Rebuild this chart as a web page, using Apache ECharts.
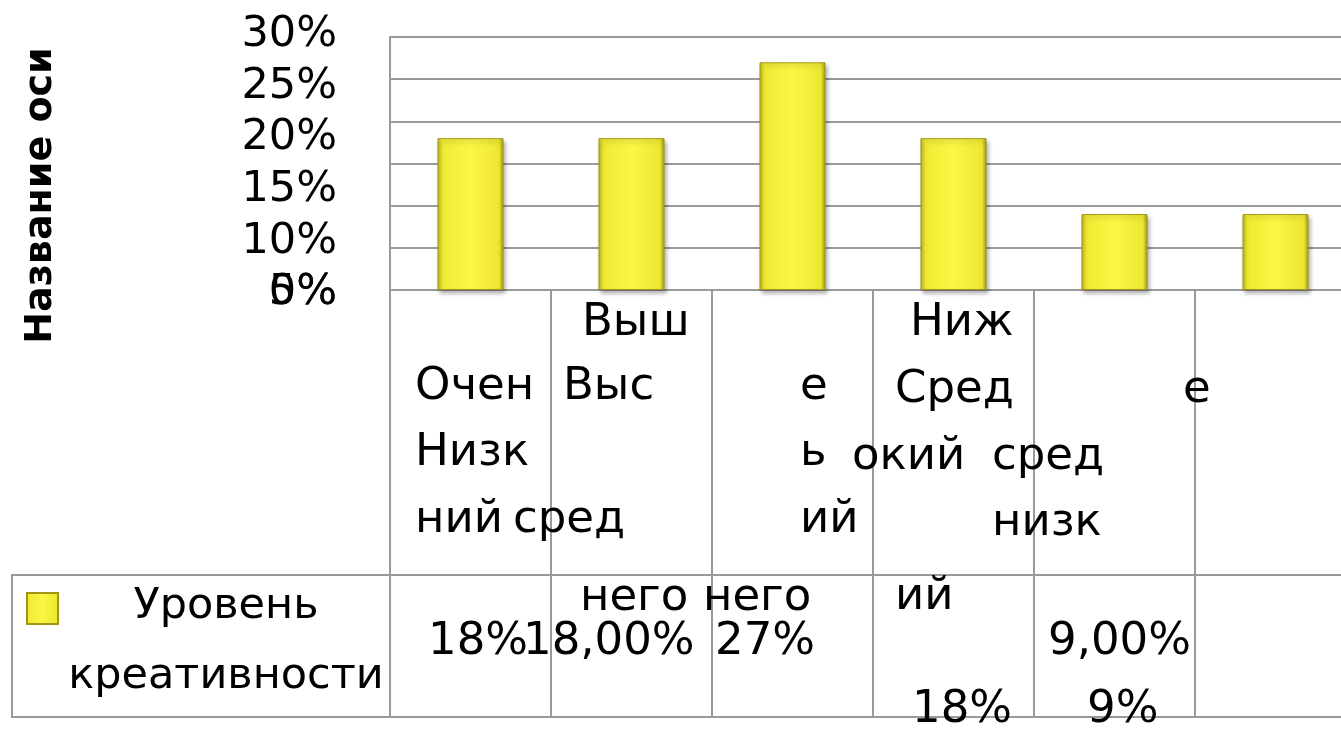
<!DOCTYPE html>
<html>
<head>
<meta charset="utf-8">
<script src="https://cdn.jsdelivr.net/npm/echarts@6/dist/echarts.min.js"></script>
<style>
html,body{margin:0;padding:0;background:#fff}
#chart{width:1341px;height:729px}
</style>
</head>
<body>
<div id="chart"></div>
<script>
var categories = ['Очень низкий', 'Низкий', 'Ниже среднего', 'Средний', 'Выше среднего', 'Высокий'];
var values = [18, 18, 27, 18, 9, 9];
var seriesName = 'Уровень креативности';
var yMax = 30, yStep = 5;

// words of the data table, as the picture wraps them
var cellWords = ['Выш', 'Ниж', 'Очен', 'Выс', 'е', 'Сред', 'е', 'Низк', 'ь', 'окий', 'сред',
                 'ний', 'сред', 'ий', 'низк', 'него', 'него', 'ий'];
var cellValues = ['18%', '18,00%', '27%', '9,00%', '18%', '9%'];

// layout only: left edge / middle line of each word
var wordPos = [[582,323],[910,323],[415,387],[563,387],[800,387],[895,390],[1183,390],
               [415,453],[800,453],[852,457],[992,457],
               [415,520],[513,520],[800,520],[992,523],
               [580,598],[703,598],[895,597]];
var valuePos = [[428,642],[523,642],[715,642],[1048,642],[912,710],[1087,710]];

var font = '"Comic Sans MS", "DejaVu Sans", sans-serif';
var gridColor = '#9a9a9a';

var chart = echarts.init(document.getElementById('chart'));

var texts = [];
cellWords.forEach(function (w, i) {
  texts.push({type: 'text', x: wordPos[i][0], y: wordPos[i][1], z: 10,
    style: {text: w, font: '45px ' + font, fill: '#000', align: 'left', verticalAlign: 'middle'}});
});
cellValues.forEach(function (w, i) {
  texts.push({type: 'text', x: valuePos[i][0], y: valuePos[i][1], z: 10,
    style: {text: w, font: '45px ' + font, fill: '#000', align: 'left', verticalAlign: 'middle'}});
});
texts.push({type: 'rect', shape: {x: 12, y: 575, width: 378, height: 142}, z: 1,
  style: {fill: 'none', stroke: gridColor, lineWidth: 2}});

var barColor = new echarts.graphic.LinearGradient(0, 0, 1, 0, [
  {offset: 0, color: '#bdb61a'},
  {offset: 0.07, color: '#f0ea33'},
  {offset: 0.5, color: '#fbf646'},
  {offset: 0.93, color: '#eee731'},
  {offset: 1, color: '#a39c16'}
]);

option = {
  animation: false,
  textStyle: {fontFamily: font},
  grid: [
    {left: 390, top: 37, width: 966, height: 253, outerBoundsMode: 'none'},
    {left: 337, top: 35, width: 1, height: 258, outerBoundsMode: 'none'},
    {left: 390, top: 290, width: 966, height: 427, outerBoundsMode: 'none'}
  ],
  legend: {
    left: 21, top: 580,
    itemWidth: 31, itemHeight: 31,
    icon: 'rect',
    data: [seriesName],
    formatter: function () { return '{a|Уровень}\n{a|креативности}'; },
    textStyle: {
      padding: [66, 0, 0, 0],
      rich: {a: {width: 326, align: 'center', fontSize: 43, lineHeight: 70, fontFamily: font, color: '#000'}}
    }
  },
  xAxis: [
    {gridIndex: 0, type: 'category', data: categories,
     axisLine: {lineStyle: {color: gridColor, width: 2}}, axisTick: {show: false}, axisLabel: {show: false}},
    {gridIndex: 1, type: 'value', show: false},
    {gridIndex: 2, type: 'category', data: categories, boundaryGap: true,
     axisLine: {lineStyle: {color: gridColor, width: 2}}, axisTick: {show: false}, axisLabel: {show: false},
     splitLine: {show: true, interval: 0, lineStyle: {color: gridColor, width: 2}}}
  ],
  yAxis: [
    {gridIndex: 0, type: 'value', min: 0, max: yMax, interval: yStep,
     axisLine: {show: true, lineStyle: {color: gridColor, width: 2}},
     axisTick: {show: false}, axisLabel: {show: false},
     splitLine: {lineStyle: {color: gridColor, width: 2}},
     name: 'Название оси', nameLocation: 'middle', nameGap: 330, nameRotate: 90,
     nameTextStyle: {fontSize: 38, fontWeight: 'bold', color: '#000', fontFamily: font, padding: [0, 64, 0, 0]}},
    {gridIndex: 1, type: 'value', position: 'left', offset: 0, min: yStep, max: yMax, interval: yStep,
     axisLine: {show: false}, axisTick: {show: false}, splitLine: {show: false},
     axisLabel: {margin: 0, fontSize: 43, color: '#000', fontFamily: font, formatter: '{value}%'}},
    {gridIndex: 1, type: 'value', position: 'left', offset: 0, min: yStep, max: yMax, interval: yStep,
     axisLine: {show: false}, axisTick: {show: false}, splitLine: {show: false},
     axisLabel: {margin: 0, fontSize: 43, color: '#000', fontFamily: font, customValues: [yStep],
       formatter: function () { return '0%'; }}},
    {gridIndex: 2, type: 'value', inverse: true, min: 0, max: 427, interval: 285,
     axisLine: {show: true, lineStyle: {color: gridColor, width: 2}},
     axisTick: {show: false}, axisLabel: {show: false},
     splitLine: {lineStyle: {color: gridColor, width: 2}}}
  ],
  series: [
    {
      name: seriesName,
      type: 'bar',
      xAxisIndex: 0, yAxisIndex: 0,
      data: values,
      barWidth: '41%',
      itemStyle: {
        color: barColor,
        borderColor: '#9e9716', borderWidth: 1,
        shadowColor: 'rgba(0,0,0,0.3)', shadowBlur: 4, shadowOffsetX: 2, shadowOffsetY: 3
      }
    }
  ],
  graphic: texts
};

chart.setOption(option);
</script>
</body>
</html>
